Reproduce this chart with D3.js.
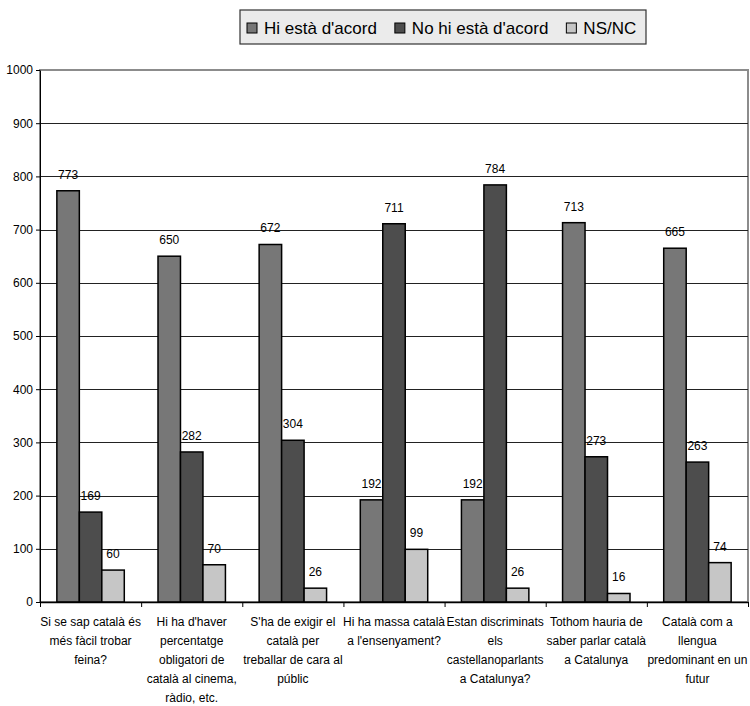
<!DOCTYPE html>
<html>
<head>
<meta charset="utf-8">
<script src="https://cdn.jsdelivr.net/npm/d3@7"></script>
<style>
  body { margin: 0; background: #fff; }
  svg { display: block; font-family: "Liberation Sans", Arial, sans-serif; }
</style>
</head>
<body>
<svg id="chart" width="750" height="706"></svg>
<script>
// Survey answers per statement
const categories = [
  ["Si se sap català és", "més fàcil trobar", "feina?"],
  ["Hi ha d'haver", "percentatge", "obligatori de", "català al cinema,", "ràdio, etc."],
  ["S'ha de exigir el", "català per", "treballar de cara al", "públic"],
  ["Hi ha massa català", "a l'ensenyament?"],
  ["Estan discriminats", "els", "castellanoparlants", "a Catalunya?"],
  ["Tothom hauria de", "saber parlar català", "a Catalunya"],
  ["Català com a", "llengua", "predominant en un", "futur"]
];
const seriesNames = ["Hi està d'acord", "No hi està d'acord", "NS/NC"];
const agree    = [773, 650, 672, 192, 192, 713, 665];
const disagree = [169, 282, 304, 711, 784, 273, 263];
const nsnc     = [60, 70, 26, 99, 26, 16, 74];
const yTicks   = [0, 100, 200, 300, 400, 500, 600, 700, 800, 900, 1000];
const colors   = ["#777777", "#4d4d4d", "#c6c6c6"];

const values = [agree, disagree, nsnc];
const svg = d3.select("#chart");

const plot = { left: 40, right: 748, top: 70, bottom: 602 };
const catIdx = d3.range(categories.length);

const x = d3.scaleBand().domain(catIdx).range([plot.left, plot.right]).padding(0);
const xs = d3.scaleBand().domain(d3.range(seriesNames.length))
  .range([0, x.bandwidth()]).paddingInner(0).paddingOuter(0.75);
const y = d3.scaleLinear().domain([0, 1000]).range([plot.bottom, plot.top]);

// Plot area
svg.append("rect")
  .attr("x", plot.left).attr("y", plot.top)
  .attr("width", plot.right - plot.left).attr("height", plot.bottom - plot.top)
  .attr("fill", "#fff").attr("stroke", "#8c8c8c").attr("stroke-width", 2);

// Horizontal gridlines
svg.append("g").selectAll("line")
  .data(yTicks.filter(t => t > 0 && t < 1000))
  .join("line")
  .attr("x1", plot.left).attr("x2", plot.right)
  .attr("y1", d => Math.round(y(d)) + 0.5).attr("y2", d => Math.round(y(d)) + 0.5)
  .attr("stroke", "#222").attr("stroke-width", 1);

// Bars
const groups = svg.append("g").selectAll("g")
  .data(catIdx).join("g")
  .attr("transform", i => `translate(${x(i)},0)`);

groups.selectAll("rect")
  .data(i => values.map((arr, s) => ({ s, v: arr[i] })))
  .join("rect")
  .attr("x", d => xs(d.s))
  .attr("y", d => y(d.v))
  .attr("width", xs.bandwidth())
  .attr("height", d => y(0) - y(d.v))
  .attr("fill", d => colors[d.s])
  .attr("stroke", "#000").attr("stroke-width", 1.5);

groups.selectAll("text")
  .data(i => values.map((arr, s) => ({ s, v: arr[i] })))
  .join("text")
  .attr("x", d => xs(d.s) + xs.bandwidth() / 2)
  .attr("y", d => y(d.v) - 12)
  .attr("text-anchor", "middle")
  .attr("font-size", 12)
  .attr("fill", "#000")
  .text(d => d.v);

// Y axis
const yAxis = svg.append("g")
  .attr("transform", `translate(${plot.left},0)`)
  .call(d3.axisLeft(y).tickValues(yTicks).tickFormat(d3.format("d"))
    .tickSize(4).tickSizeOuter(0));
yAxis.select(".domain").attr("stroke", "#000");
yAxis.selectAll(".tick text").attr("font-size", 12).attr("fill", "#000")
  .attr("font-family", "Liberation Sans, Arial, sans-serif");

// X axis with ticks on category boundaries
const xb = d3.scaleLinear().domain([0, categories.length]).range([plot.left, plot.right]);
const xAxis = svg.append("g")
  .attr("transform", `translate(0,${plot.bottom})`)
  .call(d3.axisBottom(xb).tickValues(d3.range(categories.length + 1))
    .tickSize(5).tickSizeOuter(0).tickFormat(""));
xAxis.select(".domain").attr("stroke", "#000").attr("stroke-width", 1.5);

// Category labels
const labels = svg.append("g").selectAll("text")
  .data(catIdx).join("text")
  .attr("x", i => x(i) + x.bandwidth() / 2)
  .attr("y", 626)
  .attr("text-anchor", "middle")
  .attr("font-size", 12)
  .attr("fill", "#000");
labels.selectAll("tspan")
  .data(i => categories[i].map(line => ({ line, cx: x(i) + x.bandwidth() / 2 })))
  .join("tspan")
  .attr("x", d => d.cx)
  .attr("dy", (d, k) => k === 0 ? 0 : 19)
  .text(d => d.line);

// Legend
const legend = svg.append("g");
legend.append("rect")
  .attr("x", 240).attr("y", 10).attr("width", 406).attr("height", 34)
  .attr("fill", "#ebebeb").attr("stroke", "#333").attr("stroke-width", 1.2);
let lx = 247;
seriesNames.forEach((name, s) => {
  legend.append("rect")
    .attr("x", lx).attr("y", 23).attr("width", 10).attr("height", 10)
    .attr("fill", colors[s]).attr("stroke", "#000").attr("stroke-width", 1);
  const t = legend.append("text")
    .attr("x", lx + 17).attr("y", 34)
    .attr("font-size", 17).attr("fill", "#000")
    .text(name);
  lx += 17 + t.node().getComputedTextLength() + 18;
});
</script>
</body>
</html>
